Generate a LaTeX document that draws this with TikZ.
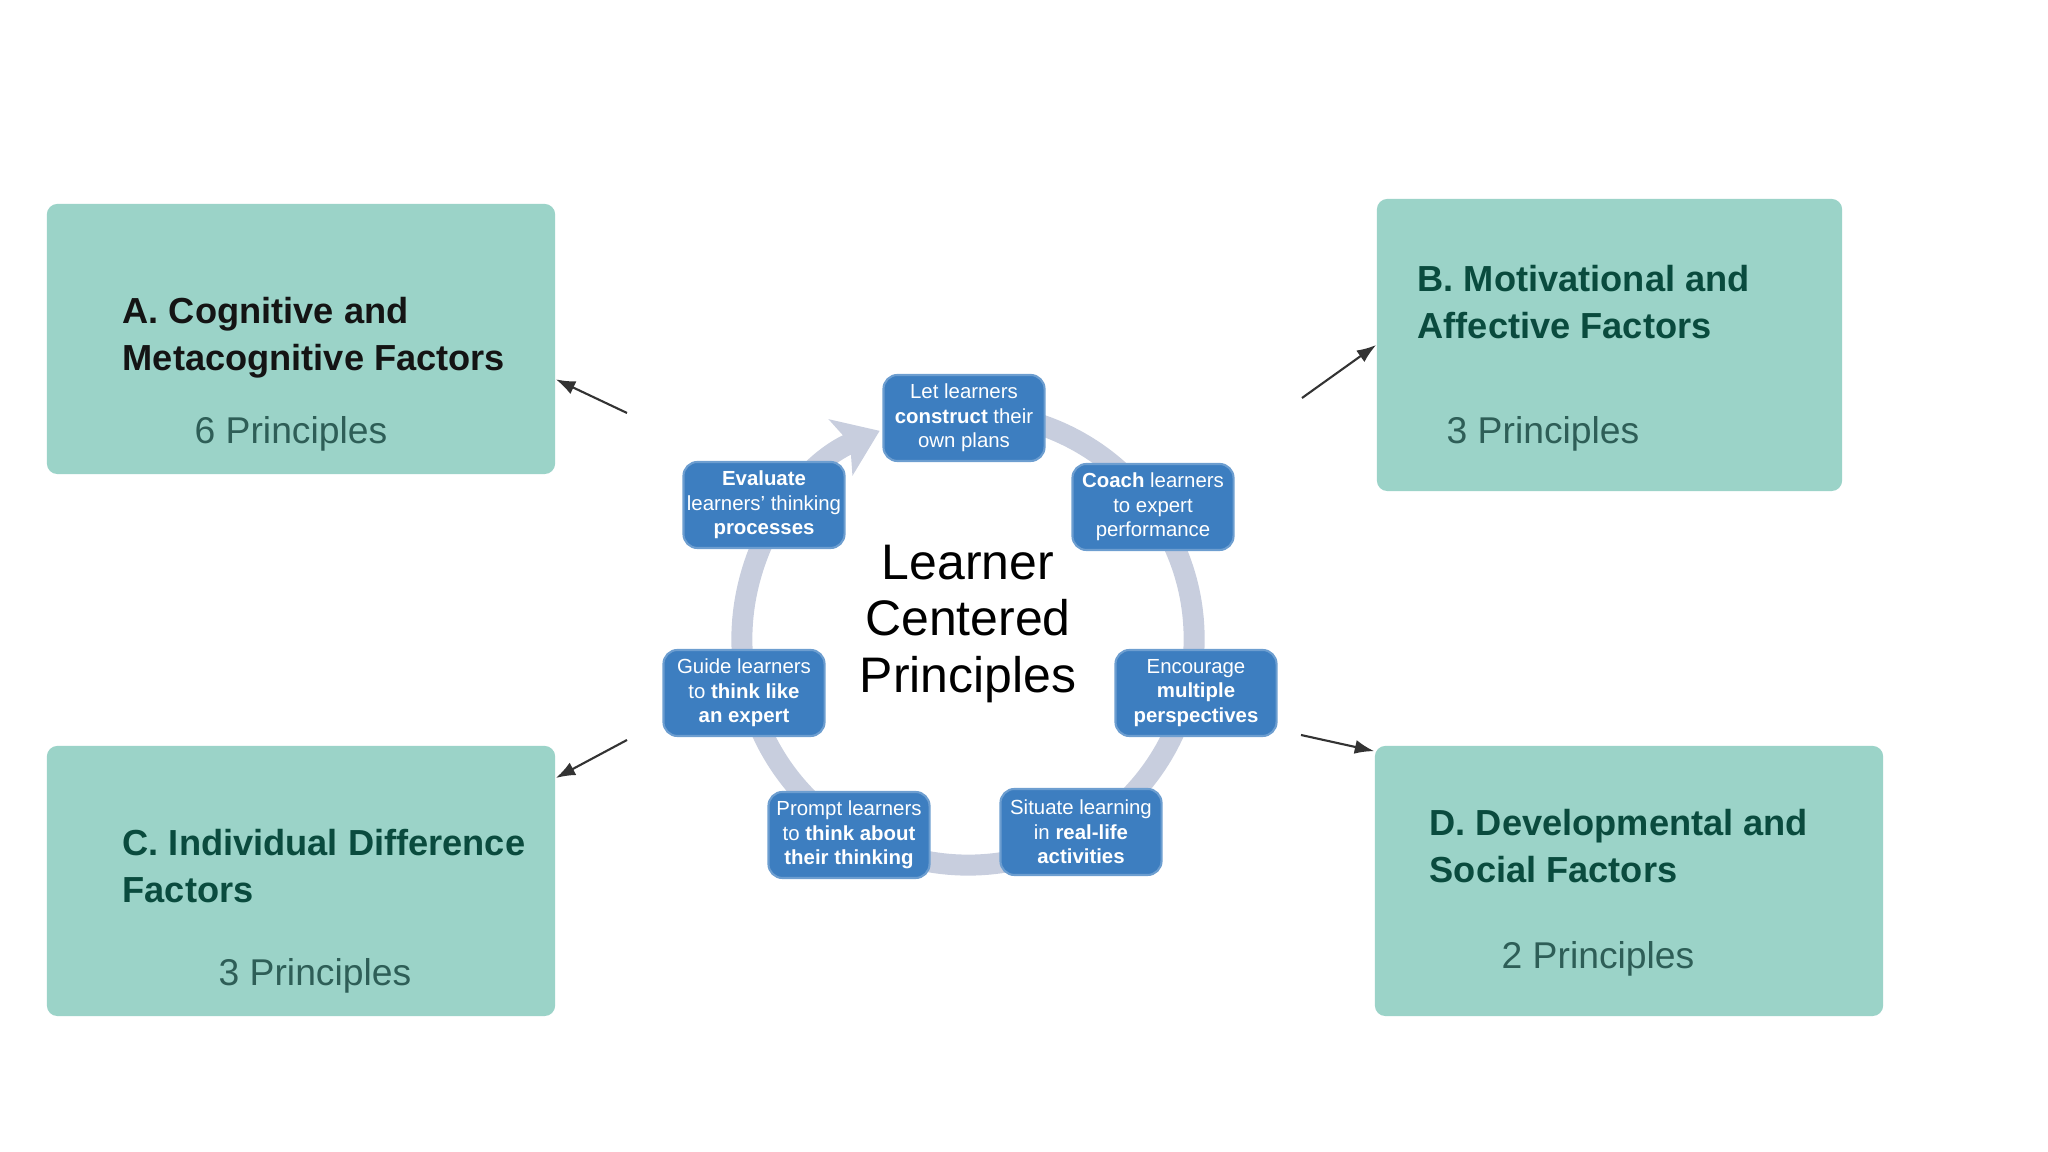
\documentclass[tikz,border=0pt]{standalone}
\usepackage{fontspec}
\setmainfont{Liberation Sans}
\usepackage{tikz}
\usetikzlibrary{arrows.meta,positioning,calc}
\definecolor{boxfill}{HTML}{9BD3C8}
\definecolor{ink}{HTML}{0A4B3E}
\definecolor{muted}{HTML}{2E5E57}
\definecolor{stepblue}{HTML}{3D7EC0}
\definecolor{ringgrey}{HTML}{C8CEDE}
\definecolor{arrowgrey}{HTML}{333333}

\begin{document}
\begin{tikzpicture}[x=0.01cm,y=0.01cm,>={Latex[length=5.5pt,width=4pt]},
 fac/.style={fill=boxfill,rounded corners=3pt,minimum width=5.08cm,minimum height=2.7cm,inner sep=0pt},
 ttl/.style={anchor=west,align=left,text=ink,font=\fontsize{10.3}{13.4}\selectfont\bfseries,inner sep=0pt},
 cnt/.style={text=muted,font=\fontsize{10.6}{13}\selectfont,inner sep=0pt},
 pr/.style={draw=stepblue!75!white,line width=0.6pt,fill=stepblue,rounded corners=4pt,minimum width=1.61cm,minimum height=0.86cm,inner sep=0pt,align=center,text=white,font=\fontsize{5.8}{7}\selectfont},
 ar/.style={->,line width=0.6pt,color=arrowgrey}]
 \useasboundingbox (0,0) rectangle (2048,1152);
 % factor boxes
 \node[fac] (A) at (301,813) {};
 \node[fac,minimum width=4.65cm,minimum height=2.92cm] (B) at (1609.5,807) {};
 \node[fac] (C) at (301,271) {};
 \node[fac] (D) at (1629,271) {};
 \node[ttl,text=black!92] (At) at (122,814) {A. Cognitive and\\Metacognitive Factors};
 \node[cnt] (An) at (291,718) {6 Principles};
 \node[ttl] (Bt) at (1417,850) {B. Motivational and\\Affective Factors};
 \node[cnt] (Bn) at (1543,718) {3 Principles};
 \node[ttl] (Ct) at (122,286) {C. Individual Difference\\Factors};
 \node[cnt] (Cn) at (315,176) {3 Principles};
 \node[ttl] (Dt) at (1429,306) {D. Developmental and\\Social Factors};
 \node[cnt] (Dn) at (1598,193) {2 Principles};
 % cycle
 \coordinate (o) at (968,513);
 \draw[ringgrey,line width=0.21cm,-{Stealth[length=0.42cm,width=0.6cm,inset=0.1cm]}]
  (o) ++(85:2.26cm) arc[start angle=85,end angle=-247,radius=2.26cm];
 \node[font=\fontsize{14.2}{16}\selectfont,align=center] (lcp) at (968,528) {Learner\\Centered\\Principles};
 \node[pr] (p1) at (964,734) {Let learners\\\textbf{construct} their\\own plans};
 \node[pr] (p2) at (1153,645) {\textbf{Coach} learners\\to expert\\performance};
 \node[pr] (p3) at (1196,459) {Encourage\\\textbf{multiple}\\\textbf{perspectives}};
 \node[pr] (p4) at (1081,320) {Situate learning\\in \textbf{real-life}\\\textbf{activities}};
 \node[pr] (p5) at (849,317) {Prompt learners\\to \textbf{think about}\\\textbf{their thinking}};
 \node[pr] (p6) at (744,459) {Guide learners\\to \textbf{think like}\\\textbf{an expert}};
 \node[pr] (p7) at (764,647) {\textbf{Evaluate}\\learners' thinking\\\textbf{processes}};
 % links to the factors
 \coordinate (ta) at (627,739);
 \coordinate (tb) at (1302,754);
 \coordinate (tc) at (627,412);
 \coordinate (td) at (1301,417);
 \foreach \x/\y in {ta/A.-9.3,tb/B.west,tc/C.22,td/D.153.7} \draw[ar] (\x)--(\y);
\end{tikzpicture}
\end{document}
